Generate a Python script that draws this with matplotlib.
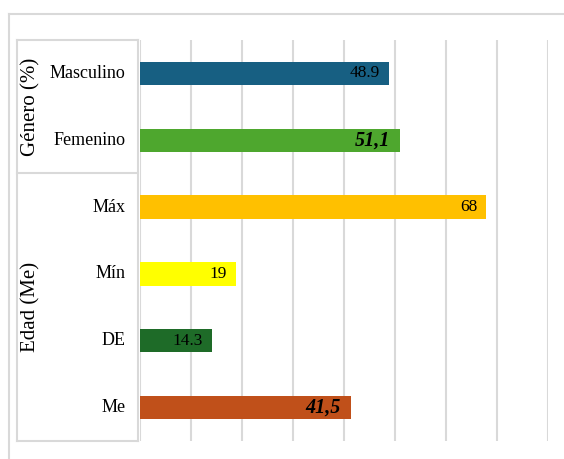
import matplotlib
matplotlib.use("Agg")
import matplotlib.pyplot as plt
from matplotlib.lines import Line2D

categories = ["Masculino", "Femenino", "Máx", "Mín", "DE", "Me"]
values = [48.9, 51.1, 68, 19, 14.3, 41.5]
value_labels = ["48.9", "51,1", "68", "19", "14.3", "41,5"]
emphasis = [False, True, False, False, False, True]
colors = ["#175f82", "#4ea72e", "#ffc000", "#ffff00", "#1e6b28", "#c0501a"]
groups = [("Género (%)", 0, 1), ("Edad (Me)", 2, 5)]

W, H = 564, 459
plt.rcParams['font.family'] = ['Liberation Serif', 'DejaVu Serif']
fig = plt.figure(figsize=(W / 100, H / 100), dpi=100)

def fx(px):
    return px / W

def fy(py):
    return 1 - py / H

ax = fig.add_axes([fx(139.5), fy(441), fx(547.5) - fx(139.5), fy(40) - fy(441)])
n = len(categories)
ypos = list(range(n))[::-1]
ax.barh(ypos, values, height=0.35, color=colors, zorder=3)
ax.set_xlim(0, 80)
ax.set_ylim(-0.5, n - 0.5)
ax.set_xticks(range(0, 81, 10))
ax.grid(axis='x', color='#d9d9d9', linewidth=1.5, zorder=0)
ax.tick_params(left=False, bottom=False, labelleft=False, labelbottom=False)
for s in ax.spines.values():
    s.set_visible(False)

for y, v, lab, em in zip(ypos, values, value_labels, emphasis):
    if em:
        ax.text(v - 2.0, y, lab, ha='right', va='center', fontsize=14.5,
                fontweight='bold', fontstyle='italic', color='black', zorder=4)
    else:
        ax.text(v - 1.8, y, lab, ha='right', va='center', fontsize=12.5,
                color='black', zorder=4)

# category labels
for y, c in zip(ypos, categories):
    ax.annotate(c, xy=(0, y), xycoords='data', xytext=(-14, 0),
                textcoords='offset pixels', ha='right', va='center', fontsize=13)

# frame lines
lc = '#d9d9d9'
def hline(x0, x1, y, lw=1.5):
    fig.add_artist(Line2D([fx(x0), fx(x1)], [fy(y), fy(y)], color=lc, lw=lw))
def vline(x, y0, y1, lw=1.5):
    fig.add_artist(Line2D([fx(x), fx(x)], [fy(y0), fy(y1)], color=lc, lw=lw))

hline(9, 564, 14)
vline(9, 14, 459)
hline(17, 138, 40)
hline(17, 138, 173)
hline(17, 138, 441)
vline(17, 40, 441)
vline(138, 40, 441)

# group labels
row_h = (441 - 40) / n
for name, i0, i1 in groups:
    yc = 40 + row_h * ((i0 + i1) / 2 + 0.5)
    fig.text(fx(31), fy(yc), name, rotation=90, ha='center', va='center', fontsize=15)

fig.savefig("out.png", dpi=100)
